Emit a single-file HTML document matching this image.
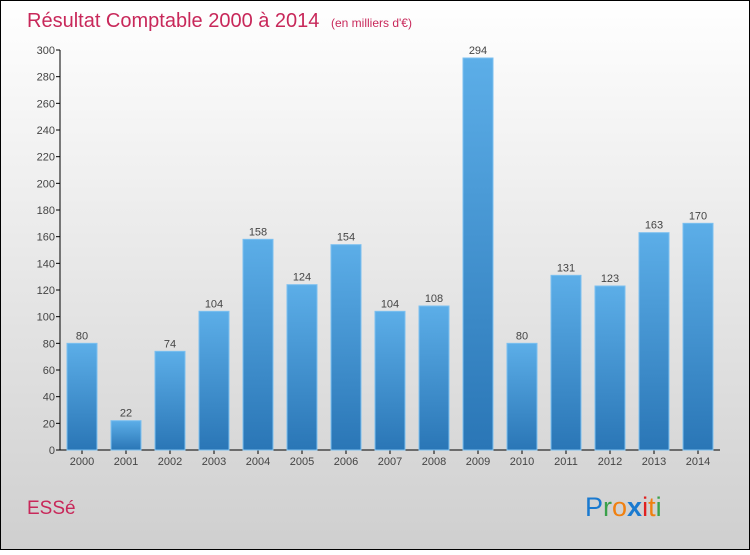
<!DOCTYPE html>
<html><head><meta charset="utf-8"><style>
body{margin:0}
#c{width:750px;height:550px;position:relative;font-family:"Liberation Sans",sans-serif}
</style></head><body>
<div id="c">
<svg id="s" width="750" height="550" xmlns="http://www.w3.org/2000/svg">
<defs>
<linearGradient id="bg" x1="0" y1="0" x2="0" y2="1"><stop offset="0" stop-color="#ffffff"/><stop offset="1" stop-color="#cfcfcf"/></linearGradient>
<linearGradient id="bar" x1="0" y1="0" x2="0" y2="1"><stop offset="0" stop-color="#5caee8"/><stop offset="1" stop-color="#2a76b6"/></linearGradient>
</defs>
<rect x="0.5" y="0.5" width="749" height="549" fill="url(#bg)" stroke="#000"/>
<text x="27" y="27" font-size="20" fill="#c8285a">Résultat Comptable 2000 à 2014 <tspan font-size="12" dx="6">(en milliers d'€)</tspan></text>
<text x="27" y="514" font-size="19" fill="#c8285a">ESSé</text>
<g font-size="27">
<text x="585" y="516"><tspan fill="#1a7ad0">P</tspan><tspan fill="#3aa04a">r</tspan><tspan fill="#f08010">o</tspan><tspan fill="#1a7ad0" font-weight="bold">x</tspan><tspan fill="#e02020">i</tspan><tspan fill="#f08010">t</tspan><tspan fill="#3aa04a">i</tspan></text>
</g>
<g id="axes"></g><g id="bars"></g>
</svg></div>
<script>
const categories=["2000","2001","2002","2003","2004","2005","2006","2007","2008","2009","2010","2011","2012","2013","2014"];
const values=[80,22,74,104,158,124,154,104,108,294,80,131,123,163,170];
const yTicks=[0,20,40,60,80,100,120,140,160,180,200,220,240,260,280,300];
const NS="http://www.w3.org/2000/svg";
const y=v=>450-v*400/300;
const x=i=>82+i*44;
function mk(t,a,p){const e=document.createElementNS(NS,t);for(const k in a)e.setAttribute(k,a[k]);p.appendChild(e);return e;}
const ax=document.getElementById('axes'),bg=document.getElementById('bars');
const yl=mk('line',{x1:60,y1:50,x2:60,y2:450,stroke:'#000'},ax);


const xl=mk('line',{x1:60,y1:450,x2:720,y2:450,stroke:'#000'},ax);


yTicks.forEach(v=>{
 mk('line',{x1:56,y1:y(v),x2:60,y2:y(v),stroke:'#000'},ax);
 const t=mk('text',{x:55,y:y(v)+4,'text-anchor':'end','font-size':11,fill:'#444'},ax);t.textContent=v;
 
 
});
categories.forEach((c,i)=>{
 const r=mk('rect',{x:x(i)-15,y:y(values[i]),width:30,height:450-y(values[i]),fill:'url(#bar)',stroke:'#7cc0f0','stroke-width':1},bg);
 
 
 const l=mk('text',{x:x(i),y:y(values[i])-4,'text-anchor':'middle','font-size':11,fill:'#444'},bg);l.textContent=values[i];
 
 
 mk('line',{x1:x(i),y1:450,x2:x(i),y2:454,stroke:'#000'},ax);
 const t=mk('text',{x:x(i),y:465,'text-anchor':'middle','font-size':11,fill:'#444'},ax);t.textContent=c;
 
 
});
</script>
</body></html>
